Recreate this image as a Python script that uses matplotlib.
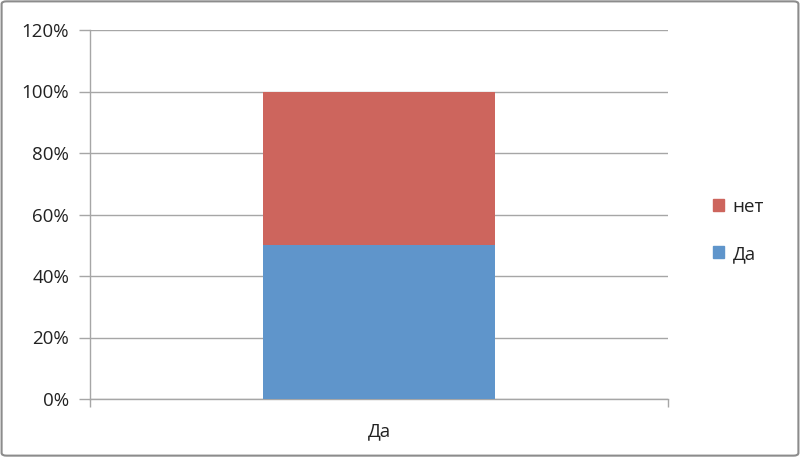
import matplotlib
matplotlib.use("Agg")
import matplotlib.pyplot as plt
import matplotlib.patches as mpatches
import numpy as np

# ── data ──
categories = ["Да"]
series_names = ["Да", "нет"]
da_values = [0.50]
net_values = [0.50]
y_ticks = [0, 0.2, 0.4, 0.6, 0.8, 1.0, 1.2]
y_labels = ["0%", "20%", "40%", "60%", "80%", "100%", "120%"]

BLUE = "#5F95CB"
RED = "#CD655D"
GRID = "#A6A6A6"
TEXT = "#222222"

plt.rcParams["font.family"] = ["Open Sans", "DejaVu Sans"]

fig = plt.figure(figsize=(8.0, 4.57), dpi=100)
ax = fig.add_axes([90 / 800, 1 - 399 / 457, 578 / 800, 369 / 457])

x = np.arange(len(categories))
ax.bar(x, da_values, width=0.40, color=BLUE, zorder=3, label=series_names[0])
ax.bar(x, net_values, width=0.40, bottom=da_values, color=RED, zorder=3,
       label=series_names[1])

ax.set_xlim(-0.5, len(categories) - 0.5)
ax.set_ylim(0, 1.2)
ax.set_yticks(y_ticks)
ax.set_yticklabels(y_labels)
ax.set_xticks(x)
ax.set_xticklabels(categories)
ax.set_xticks([-0.5, len(categories) - 0.5], minor=True)

ax.grid(True, axis="y", color=GRID, linewidth=1.0, zorder=0)
ax.tick_params(axis="y", length=8, width=1, color=GRID, labelsize=13.5,
               labelcolor=TEXT, pad=7)
ax.tick_params(axis="x", which="major", length=0, labelsize=13.5,
               labelcolor=TEXT, pad=17)
ax.tick_params(axis="x", which="minor", length=6, width=1, color=GRID)

for side in ("top", "right"):
    ax.spines[side].set_visible(False)
for side in ("left", "bottom"):
    ax.spines[side].set_color(GRID)
    ax.spines[side].set_linewidth(1.0)

# legend (reverse order, like Excel stacked)
handles = [mpatches.Patch(color=RED, label=series_names[1]),
           mpatches.Patch(color=BLUE, label=series_names[0])]
fig.legend(handles=handles, loc="upper left",
           bbox_to_anchor=(696 / 800, 1 - 181 / 457),
           frameon=False, fontsize=13.5, handlelength=0.6, handleheight=0.6,
           handletextpad=0.45, labelspacing=1.55, labelcolor=TEXT)

# outer border
border = mpatches.FancyBboxPatch((0.002, 0.003), 0.996, 0.994,
                                 boxstyle="round,pad=0,rounding_size=0.006",
                                 transform=fig.transFigure, fill=False,
                                 edgecolor="#8C8C8C", linewidth=1.5)
fig.patches.append(border)

fig.savefig("out.png", dpi=100, facecolor="white")
